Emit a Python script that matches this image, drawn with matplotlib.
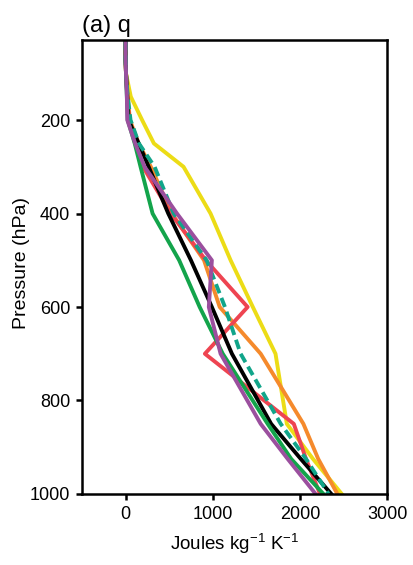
import numpy as np
import matplotlib.pyplot as plt

plt.rcParams['font.family'] = ['Liberation Sans', 'DejaVu Sans']

# pressure levels (hPa)
levels = [30, 50, 70, 100, 150, 200, 250, 300, 400, 500, 600, 700, 850, 925, 1000]

# profiles (Joules kg-1 K-1)
yellow = [0, 0, 0, 5, 60, 190, 325, 665, 975, 1205, 1460, 1720, 1850, 2150, 2480]
orange = [0, 0, 0, 5, 25, 50, 150, 290, 530, 900, 1080, 1550, 2040, 2210, 2430]
red = [0, 0, 0, 5, 20, 40, 120, 200, 520, 920, 1400, 910, 1930, 2070, 2230]
black = [0, 0, 0, 5, 20, 35, 150, 265, 490, 750, 990, 1220, 1670, 2010, 2360]
green = [0, 0, 0, 5, 15, 25, 105, 172, 310, 615, 850, 1115, 1630, 1900, 2270]
teal = [0, 0, 0, 5, 25, 57, 153, 333, 552, 930, 1140, 1320, 1780, 2070, 2330]
purple = [0, 0, 0, 5, 15, 20, 110, 218, 590, 990, 955, 1090, 1550, 1860, 2180]

fig = plt.figure(figsize=(4.14, 5.65), dpi=100)
ax = fig.add_axes([0.198, 0.1257, 0.737, 0.8033])

lw = 2.8
ax.plot(yellow, levels, color='#ecdc16', lw=lw)
ax.plot(orange, levels, color='#f58a2c', lw=lw)
ax.plot(red, levels, color='#ee4451', lw=lw)
ax.plot(black, levels, color='black', lw=lw)
ax.plot(green, levels, color='#13a44b', lw=lw)
ax.plot(teal, levels, color='#11a58a', lw=lw, dashes=(2.5, 1.3))
ax.plot(purple, levels, color='#9b4f9e', lw=lw)

ax.set_xlim(-500, 3000)
ax.set_ylim(1000, 29)
ax.set_xticks([0, 1000, 2000, 3000])
ax.set_yticks([200, 400, 600, 800, 1000])

for s in ax.spines.values():
    s.set_linewidth(1.8)
ax.tick_params(direction='out', length=4.3, width=1.8, labelsize=13, pad=4.3)

ax.set_xlabel('Joules kg$^{\\mathregular{-1}}$ K$^{\\mathregular{-1}}$', fontsize=13.5, labelpad=6)
ax.set_ylabel('Pressure (hPa)', fontsize=14)
ax.yaxis.set_label_coords(-0.17, 0.51)
ax.set_title('(a) q', loc='left', fontsize=17, pad=6)

fig.savefig('out.png', dpi=100)
